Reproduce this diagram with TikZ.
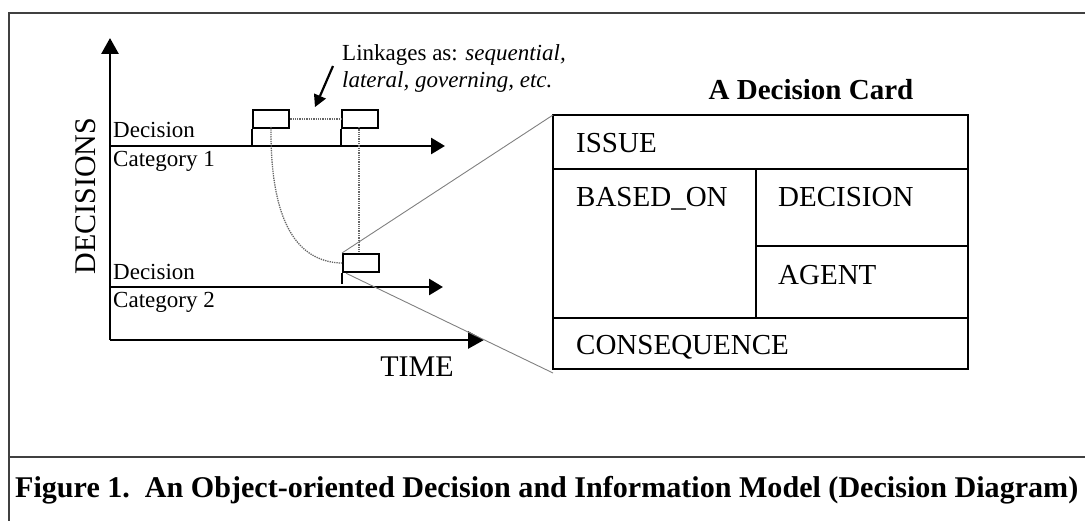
\documentclass[tikz,border=0pt]{standalone}
\usepackage{fontspec}
\usepackage{graphicx}
\setmainfont{Liberation Serif}
\usetikzlibrary{arrows.meta}
\tikzset{
  frameline/.style={line width=2pt, draw=black!75},
  axisline/.style={line width=2.8pt, -{Triangle[length=16pt,width=17pt]}},
  catline/.style={line width=2.6pt, -{Triangle[length=14pt,width=16pt]}},
  minibox/.style={draw, line width=2.2pt, minimum width=36pt, minimum height=18pt, inner sep=0pt},
  stem/.style={line width=2.2pt},
  linkdot/.style={densely dotted, line width=1.3pt, draw=black!60},
  zoomline/.style={line width=0.9pt, draw=black!50},
  cardline/.style={line width=2.6pt},
  lbl/.style={inner sep=0pt, anchor=base west, font=\fontsize{23}{26}\selectfont},
  cardtxt/.style={inner sep=0pt, anchor=base west, font=\fontsize{29}{32}\selectfont},
  linkarrow/.style={line width=2.2pt, draw=black},
}
\begin{document}
\begin{tikzpicture}[x=1pt,y=-1pt]
\useasboundingbox (0,0) rectangle (1085,521);
% outer frame
\draw[frameline] (1090,13) -- (9,13) -- (9,526);
\draw[frameline] (9,457) -- (1090,457);
% axes
\coordinate (origin) at (110,340);
\coordinate (ytip) at (110,38);
\coordinate (xtip) at (484,340);
\draw[axisline] (origin) -- (ytip);
\draw[axisline] (origin) -- (xtip);
\node[inner sep=0pt, anchor=base, rotate=90, font=\fontsize{30}{32}\selectfont] (decs) at (95,196) {DECISIONS};
\node[inner sep=0pt, anchor=base, font=\fontsize{30}{32}\selectfont] (time) at (417,377) {TIME};
% category lines
\coordinate (c1s) at (110,146);
\coordinate (c1e) at (445,146);
\coordinate (c2s) at (110,287);
\coordinate (c2e) at (443,287);
\draw[catline] (c1s) -- (c1e);
\draw[catline] (c2s) -- (c2e);
\node[lbl] (d1) at (113,138) {Decision};
\node[lbl] (k1) at (113,167) {Category 1};
\node[lbl] (d2) at (113,280) {Decision};
\node[lbl] (k2) at (113,308) {Category 2};
% decision boxes
\node[minibox, anchor=north west] (b1) at (252,109) {};
\node[minibox, anchor=north west] (b2) at (341,109) {};
\node[minibox, anchor=north west] (b3) at (342,253) {};
\draw[stem] (b1.south west) -- (b1.south west |- c1s);
\draw[stem] (b2.south west) -- (b2.south west |- c1s);
\draw[stem] (b3.south west) -- ([yshift=3pt]b3.south west |- c2s);
% linkages
\draw[linkdot] (b1.east) -- (b2.west);
\coordinate (b1f) at (271,127);
\coordinate (b2f) at (359,127);
\draw[linkdot] (b1f) .. controls (270,235) and (305,262) .. (b3.west);
\draw[linkdot] (b2f) -- (b2f |- b3.north);
\node[inner sep=0pt, anchor=base west, font=\fontsize{23}{26}\selectfont] (lk1) at (342,61) {Linkages as: \textit{sequential,}};
\node[inner sep=0pt, anchor=base west, font=\fontsize{23}{26}\selectfont] (lk2) at (342,88) {\textit{lateral, governing, etc.}};
\coordinate (ls) at (333,66);
\coordinate (lb) at (320,96);
\coordinate (le) at (315,107);
\coordinate (lbA) at (326,98.6);
\coordinate (lbB) at (314,93.4);
\draw[linkarrow] (ls) -- (lb);
\fill[black] (le) -- (lbA) -- (lbB) -- cycle;
% decision card
\coordinate (cNW) at (553,115);
\coordinate (cSE) at (968,369);
\coordinate (cSW) at (553,369);
\draw[cardline] (cNW) rectangle (cSE);
\draw[cardline] (553,169) -- (968,169);
\draw[cardline] (553,318) -- (968,318);
\draw[cardline] (756,169) -- (756,318);
\draw[cardline] (756,246) -- (968,246);
\node[inner sep=0pt, anchor=base, font=\bfseries\fontsize{29}{32}\selectfont] (title) at (811,99.5) {A Decision Card};
\node[cardtxt] (issue) at (576,152.5) {ISSUE};
\node[cardtxt] (based) at (576,206.5) {BASED\_ON};
\node[cardtxt] (dec) at (778,206.5) {DECISION};
\node[cardtxt] (agent) at (778,284.5) {AGENT};
\node[cardtxt] (cons) at (576,354.5) {CONSEQUENCE};
% zoom lines
\draw[zoomline] (b3.north west) -- (cNW);
\draw[zoomline] ([xshift=4pt]b3.south west) -- ([yshift=-4pt]cSW);
% caption
\node[inner sep=0pt, anchor=base west] (cap) at (15,497) {\resizebox{1063pt}{!}{\bfseries\fontsize{28}{30}\selectfont Figure 1.\ \ An Object-oriented Decision and Information Model (Decision Diagram)}};
\end{tikzpicture}
\end{document}
